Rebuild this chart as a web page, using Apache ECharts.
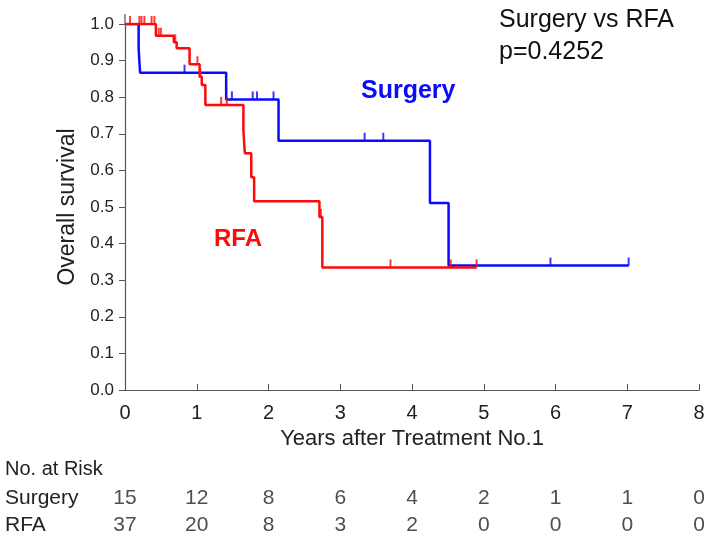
<!DOCTYPE html>
<html lang="en">
<head>
    <meta charset="UTF-8">
    <script src="https://cdn.jsdelivr.net/npm/echarts@6/dist/echarts.min.js"></script>
    <title>Overall survival</title>
</head>
<body style="margin:0">

<div id="chart" style="width: 709px;height: 539px"></div>

<script type="text/javascript">
    // Kaplan-Meier steps (time in years, survival)
    var surgeryTimes = [0, 0.19, 0.21, 1.41, 2.14, 4.25, 4.51, 7.02]
    var surgerySurv = [1.0, 0.933, 0.867, 0.794, 0.681, 0.511, 0.340, 0.340]
    var surgeryCensorT = [0.83, 1.49, 1.78, 1.84, 2.07, 3.34, 3.60, 5.93, 7.02]
    var surgeryCensorS = [0.867, 0.794, 0.794, 0.794, 0.794, 0.681, 0.681, 0.340, 0.340]

    var rfaTimes = [0, 0.43, 0.68, 0.72, 0.90, 1.04, 1.07, 1.12, 1.65, 1.67, 1.76, 1.80, 2.71, 2.75, 4.90]
    var rfaSurv = [1.0, 0.968, 0.950, 0.934, 0.890, 0.856, 0.833, 0.779, 0.710, 0.647, 0.581, 0.516, 0.473, 0.335, 0.335]
    var rfaCensorT = [0.07, 0.20, 0.23, 0.27, 0.37, 0.41, 0.47, 0.50, 0.70, 1.01, 1.05, 1.34, 1.42, 2.73, 3.70, 4.54, 4.90]
    var rfaCensorS = [1, 1, 1, 1, 1, 1, 0.968, 0.968, 0.950, 0.890, 0.856, 0.779, 0.779, 0.473, 0.335, 0.335, 0.335]

    // number at risk table
    var riskYears = [0, 1, 2, 3, 4, 5, 6, 7, 8]
    var riskGroups = ['Surgery', 'RFA']
    var surgeryRisk = [15, 12, 8, 6, 4, 2, 1, 1, 0]
    var rfaRisk = [37, 20, 8, 3, 2, 0, 0, 0, 0]

    var font = 'Liberation Sans, Arial, sans-serif'
    var BLUE = '#0a0aff'
    var RED = '#ff0a0a'

    function zip(a, b) {
        var out = []
        for (var i = 0; i < a.length; i++) out.push([a[i], b[i]])
        return out
    }

    function riskRow(name, vals) {
        var out = []
        for (var i = 0; i < vals.length; i++) out.push([riskYears[i], name, vals[i]])
        return out
    }

    var censorStyle = {
        type: 'scatter',
        symbol: 'rect',
        symbolSize: [2, 8],
        symbolOffset: [0, -4],
        silent: true,
        z: 3
    }

    var myChart = echarts.init(document.getElementById('chart'));
    var option = {
        animation: false,
        textStyle: {fontFamily: font},
        grid: [
            {left: 125, right: 10, top: 24, bottom: 149},
            {left: 125, right: 10, top: 484, height: 56}
        ],
        xAxis: [{
            type: 'value',
            min: 0, max: 8, interval: 1,
            name: 'Years after Treatment No.1',
            nameLocation: 'middle',
            nameGap: 38,
            nameTextStyle: {fontSize: 22, color: '#222', fontFamily: font},
            axisLine: {lineStyle: {color: '#555', width: 1.2}},
            axisTick: {inside: true, length: 6, lineStyle: {color: '#555'}},
            axisLabel: {fontSize: 20, color: '#222', margin: 13},
            splitLine: {show: false}
        }, {
            gridIndex: 1,
            type: 'value',
            min: 0, max: 8,
            show: false
        }],
        yAxis: [{
            type: 'value',
            min: 0, max: 1, interval: 0.1,
            name: 'Overall survival',
            nameLocation: 'middle',
            nameGap: 44,
            nameTextStyle: {fontSize: 23, color: '#222', fontFamily: font},
            axisLine: {show: true, lineStyle: {color: '#555', width: 1.2}},
            axisTick: {show: true, length: 6, lineStyle: {color: '#555'}},
            axisLabel: {
                fontSize: 17, color: '#222', margin: 11,
                formatter: function (v) { return v.toFixed(1) }
            },
            splitLine: {show: false}
        }, {
            gridIndex: 1,
            type: 'category',
            data: riskGroups,
            inverse: true,
            axisLine: {show: false},
            axisTick: {show: false},
            axisLabel: {fontSize: 21, color: '#222', align: 'left', margin: 120}
        }],
        graphic: [
            {type: 'line', shape: {x1: 125, y1: 14, x2: 125, y2: 24}, style: {stroke: '#555', lineWidth: 1.2}},
            {type: 'text', left: 499, top: 8, style: {text: 'Surgery vs RFA', fontSize: 25, fill: '#111', fontFamily: font}},
            {type: 'text', left: 499, top: 40, style: {text: 'p=0.4252', fontSize: 25, fill: '#111', fontFamily: font}},
            {type: 'text', left: 361, top: 79, style: {text: 'Surgery', fontSize: 25, fontWeight: 'bold', fill: BLUE, fontFamily: font}},
            {type: 'text', left: 214, top: 227, style: {text: 'RFA', fontSize: 24, fontWeight: 'bold', fill: RED, fontFamily: font}},
            {type: 'text', left: 5, top: 459, style: {text: 'No. at Risk', fontSize: 20, fill: '#222', fontFamily: font}}
        ],
        series: [{
            name: 'Surgery',
            type: 'line',
            step: 'end',
            showSymbol: false,
            data: zip(surgeryTimes, surgerySurv),
            lineStyle: {color: BLUE, width: 2.5},
            z: 2
        }, Object.assign({}, censorStyle, {
            name: 'Surgery censored',
            data: zip(surgeryCensorT, surgeryCensorS),
            itemStyle: {color: BLUE}
        }), {
            name: 'RFA',
            type: 'line',
            step: 'end',
            showSymbol: false,
            data: zip(rfaTimes, rfaSurv),
            lineStyle: {color: RED, width: 2.5},
            z: 4
        }, Object.assign({}, censorStyle, {
            name: 'RFA censored',
            data: zip(rfaCensorT, rfaCensorS),
            itemStyle: {color: RED},
            z: 5
        }), {
            name: 'risk',
            type: 'scatter',
            xAxisIndex: 1,
            yAxisIndex: 1,
            symbolSize: 0,
            data: riskRow('Surgery', surgeryRisk).concat(riskRow('RFA', rfaRisk)),
            label: {
                show: true,
                position: 'inside',
                fontSize: 21,
                color: '#222',
                fontFamily: font,
                formatter: function (p) { return p.value[2] }
            }
        }]
    };
    myChart.setOption(option);
</script>
</body>
</html>
